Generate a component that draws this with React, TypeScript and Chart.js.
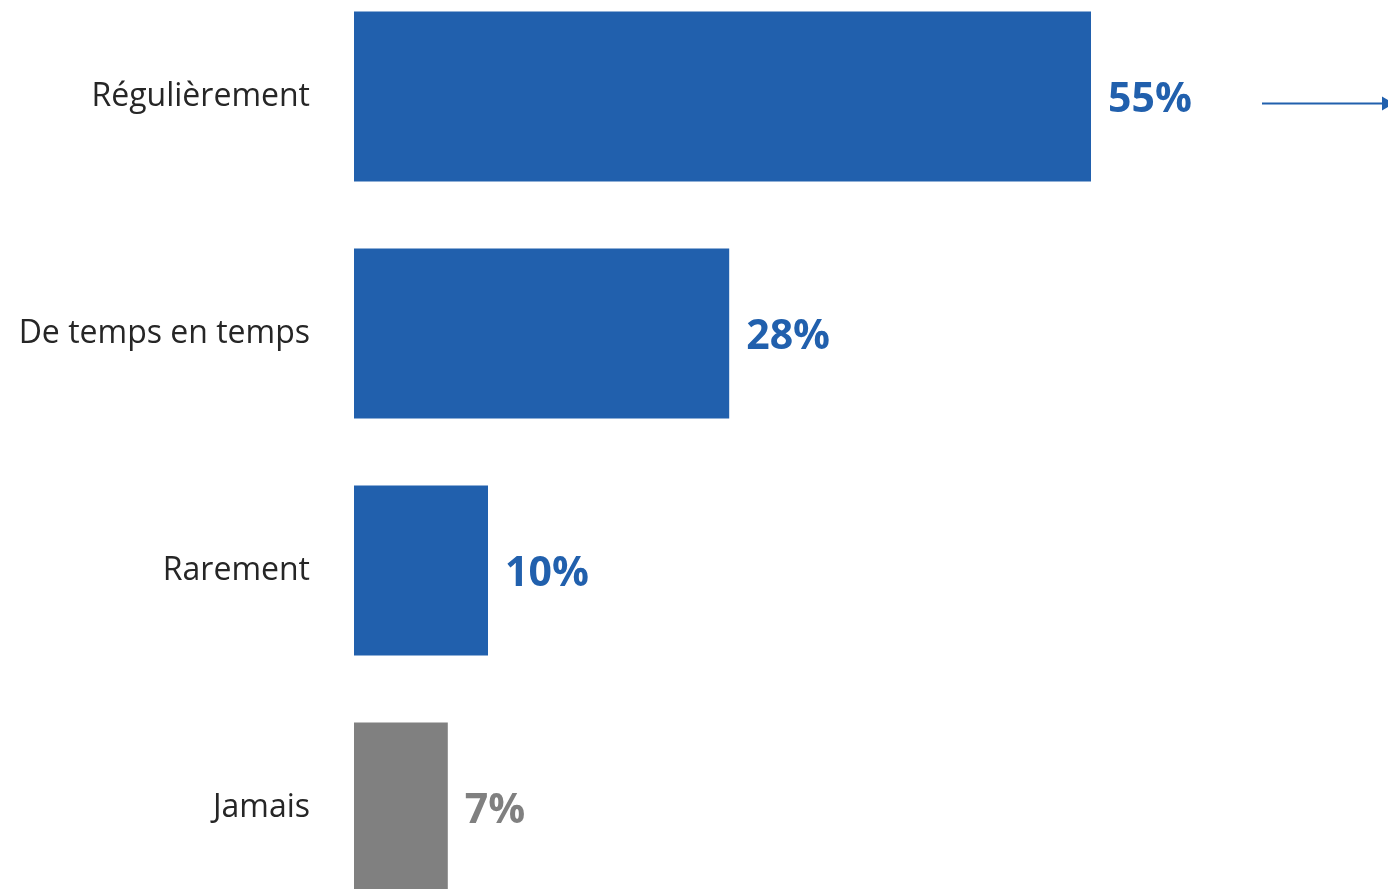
import React, { useEffect, useRef } from "react";
import { Chart, registerables } from "chart.js";

Chart.register(...registerables);

const categories = ["Régulièrement", "De temps en temps", "Rarement", "Jamais"];
const values = [55, 28, 10, 7];
const barColors = ["#2160AD", "#2160AD", "#2160AD", "#808080"];
const labelColors = ["#2160AD", "#2160AD", "#2160AD", "#808080"];
const valueLabels = ["55%", "28%", "10%", "7%"];

const valueLabelPlugin = {
  id: "valueLabels",
  afterDatasetsDraw(chart: any) {
    const ctx = chart.ctx;
    const meta = chart.getDatasetMeta(0);
    ctx.save();
    ctx.font = "bold 41px 'Open Sans'";
    ctx.textAlign = "left";
    ctx.textBaseline = "middle";
    meta.data.forEach((bar: any, i: number) => {
      ctx.fillStyle = labelColors[i];
      ctx.fillText(valueLabels[i], bar.x + 17, bar.y + 4);
    });
    ctx.restore();
  },
};

const arrowPlugin = {
  id: "arrow",
  afterDraw(chart: any) {
    const ctx = chart.ctx;
    const y = chart.scales.y.getPixelForValue(0) + 7;
    const x1 = chart.width - 126;
    const x2 = chart.width;
    ctx.save();
    ctx.strokeStyle = "#2160AD";
    ctx.fillStyle = "#2160AD";
    ctx.lineWidth = 2;
    ctx.beginPath();
    ctx.moveTo(x1, y);
    ctx.lineTo(x2 - 4, y);
    ctx.stroke();
    ctx.beginPath();
    ctx.moveTo(x2 - 6, y - 7);
    ctx.lineTo(x2 + 6, y);
    ctx.lineTo(x2 - 6, y + 7);
    ctx.closePath();
    ctx.fill();
    ctx.restore();
  },
};

export default function App() {
  const ref = useRef<HTMLCanvasElement | null>(null);
  useEffect(() => {
    if (!ref.current) return;
    const chart = new Chart(ref.current, {
      type: "bar",
      data: {
        labels: categories,
        datasets: [
          {
            data: values,
            backgroundColor: barColors,
            categoryPercentage: 1,
            barPercentage: 0.717,
          },
        ],
      },
      options: {
        indexAxis: "y",
        animation: false,
        responsive: false,
        maintainAspectRatio: false,
        layout: { padding: { left: 0, right: 96, top: 0, bottom: 0 } },
        plugins: { legend: { display: false }, tooltip: { enabled: false } },
        scales: {
          x: {
            display: false,
            min: 0,
            max: 70,
          },
          y: {
            grid: { display: false, drawTicks: false },
            border: { display: false },
            ticks: {
              padding: 44,
              color: "#262626",
              font: { family: "'Open Sans'", size: 32 },
            },
            afterFit(scale: any) {
              scale.width = 354;
              scale.paddingTop = 0;
              scale.paddingBottom = 0;
            },
          },
        },
      },
      plugins: [valueLabelPlugin, arrowPlugin],
    });
    return () => chart.destroy();
  }, []);
  return (
    <div style={{ position: "absolute", left: 0, top: -22, width: 1388, height: 948 }}>
      <canvas ref={ref} width={1388} height={948} style={{ width: 1388, height: 948 }} />
    </div>
  );
}
